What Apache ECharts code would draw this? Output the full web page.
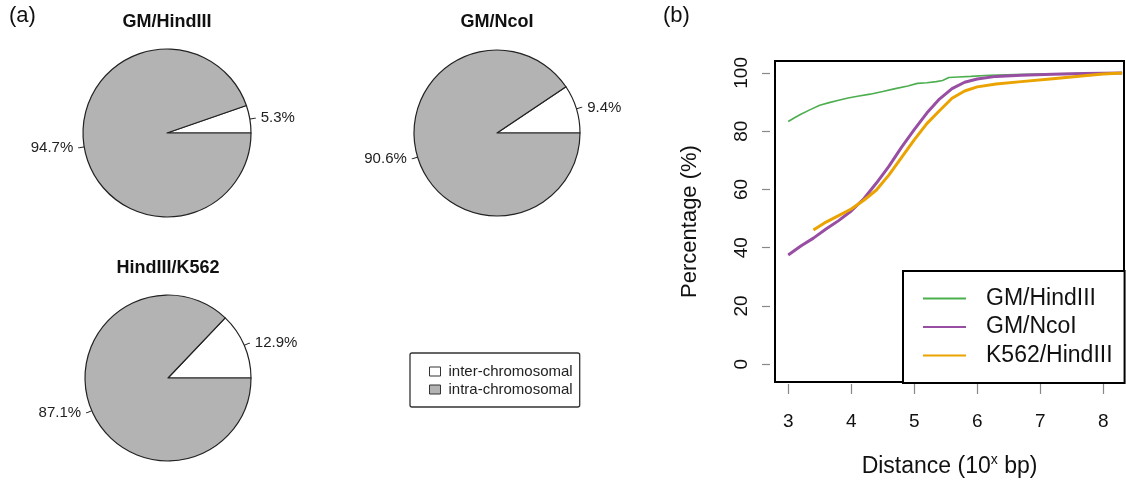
<!DOCTYPE html>
<html><head><meta charset="utf-8">
<script src="https://cdn.jsdelivr.net/npm/echarts@6/dist/echarts.min.js"></script>
<style>html,body{margin:0;padding:0;background:#fff}#c{width:1126px;height:496px}</style>
</head><body><div id="c"></div>
<script>
// ---- data ----
const pieNames = ['inter-chromosomal', 'intra-chromosomal'];
const pieTitles = ['GM/HindIII', 'GM/NcoI', 'HindIII/K562'];
const interPct = [5.3, 9.4, 12.9];
const intraPct = [94.7, 90.6, 87.1];

const lineNames = ['GM/HindIII', 'GM/NcoI', 'K562/HindIII'];
const gmHindX = [3.0, 3.1, 3.2, 3.35, 3.5, 3.65, 3.8, 3.95, 4.1, 4.3, 4.5, 4.7, 4.9, 5.05, 5.2, 5.35, 5.45, 5.55, 5.7, 5.9, 6.2, 6.6, 7.0, 7.5, 8.0, 8.3];
const gmHindY = [83.3, 84.6, 85.8, 87.4, 88.9, 89.8, 90.6, 91.4, 92.0, 92.7, 93.6, 94.6, 95.5, 96.4, 96.6, 97.0, 97.4, 98.4, 98.6, 98.8, 99.2, 99.4, 99.6, 99.8, 100, 100];
const gmNcoX = [3.0, 3.2, 3.4, 3.6, 3.8, 4.0, 4.2, 4.4, 4.6, 4.8, 5.0, 5.2, 5.4, 5.6, 5.8, 6.0, 6.3, 6.7, 7.2, 7.7, 8.3];
const gmNcoY = [37.5, 40.6, 43.3, 46.4, 49.3, 52.6, 56.8, 62.2, 68.0, 74.5, 80.5, 86.2, 91.0, 94.6, 96.8, 97.9, 98.8, 99.2, 99.5, 99.8, 100];
const k562X = [3.4, 3.6, 3.8, 4.0, 4.2, 4.4, 4.6, 4.8, 5.0, 5.2, 5.4, 5.6, 5.8, 6.0, 6.3, 6.7, 7.2, 7.7, 8.0, 8.3];
const k562Y = [46.1, 48.8, 51.0, 53.3, 56.3, 59.8, 65.0, 71.0, 77.0, 82.6, 87.0, 91.3, 93.8, 95.2, 96.2, 97.0, 98.0, 99.0, 99.6, 100];
const xTicks = [3, 4, 5, 6, 7, 8];
const yTicks = [0, 20, 40, 60, 80, 100];

// ---- layout / style ----
const FONT = '"Liberation Sans", Arial, Helvetica, sans-serif';
const pieCenters = [[167, 133], [497, 133], [168, 378]];
const pieRadius = [84, 83, 83];
const titlePos = [[167, 22], [497, 22], [168, 268]];
const pieColors = ['#ffffff', '#b3b3b3'];
const lineColors = ['#4dae4f', '#984ea3', '#eaa300'];
const lineWidths = [1.6, 3, 3];
const seriesXY = [[gmHindX, gmHindY], [gmNcoX, gmNcoY], [k562X, k562Y]];

const chart = echarts.init(document.getElementById('c'), null, {renderer: 'canvas'});

const pieSeries = pieTitles.map((t, i) => ({
  type: 'pie',
  name: 'pie' + i,
  center: pieCenters[i],
  radius: pieRadius[i],
  startAngle: 0,
  clockwise: false,
  avoidLabelOverlap: false,
  silent: true,
  minShowLabelAngle: 0,
  itemStyle: {borderColor: '#222', borderWidth: 1.2},
  label: {show: true, position: 'outside', formatter: '{c}%', fontFamily: FONT, fontSize: 15, color: '#222'},
  labelLine: {show: true, length: 5, length2: 1, smooth: false, lineStyle: {color: '#222', width: 1}},
  emphasis: {disabled: true},
  data: [
    {name: pieNames[0], value: interPct[i], itemStyle: {color: pieColors[0]}},
    {name: pieNames[1], value: intraPct[i], itemStyle: {color: pieColors[1]}}
  ]
}));

const lineSeries = lineNames.map((n, i) => ({
  type: 'line',
  name: n,
  xAxisIndex: 0, yAxisIndex: 0,
  symbol: 'none',
  showSymbol: false,
  smooth: false,
  lineStyle: {color: lineColors[i], width: lineWidths[i]},
  itemStyle: {color: lineColors[i]},
  data: seriesXY[i][0].map((x, k) => [x, seriesXY[i][1][k]])
}));

const graphics = [
  {type: 'text', left: 9, top: 5, style: {text: '(a)', font: '22px ' + FONT, fill: '#111'}},
  {type: 'text', left: 663, top: 5, style: {text: '(b)', font: '22px ' + FONT, fill: '#111'}}
].concat(pieTitles.map((t, i) => ({
  type: 'text', x: titlePos[i][0], y: titlePos[i][1],
  style: {text: t, font: 'bold 18px ' + FONT, fill: '#111', textAlign: 'center', textVerticalAlign: 'middle'}
})));

chart.setOption({
  animation: false,
  backgroundColor: '#fff',
  textStyle: {fontFamily: FONT},
  graphic: graphics,
  grid: {left: 775, right: 2, top: 61, bottom: 114, show: true, borderColor: '#000', borderWidth: 2, backgroundColor: 'transparent'},
  xAxis: {
    type: 'value', min: 2.79, max: 8.33, offset: 2,
    axisLine: {show: false, onZero: false},
    axisTick: {show: true, inside: false, length: 10, customValues: xTicks, lineStyle: {color: '#888', width: 1.2}},
    axisLabel: {customValues: xTicks, fontSize: 19, margin: 28, color: '#111', fontFamily: FONT},
    splitLine: {show: false},
    name: 'Distance (10{sup|x} bp)', nameLocation: 'middle', nameGap: 69,
    nameTextStyle: {fontSize: 23, color: '#111', fontFamily: FONT, lineHeight: 27,
      rich: {sup: {fontSize: 14, verticalAlign: 'top', lineHeight: 27, color: '#111', fontFamily: FONT}}}
  },
  yAxis: {
    type: 'value', min: -6.08, max: 104.08, offset: 5,
    axisLine: {show: false, onZero: false},
    axisTick: {show: true, length: 8, customValues: yTicks, lineStyle: {color: '#888', width: 1.2}},
    axisLabel: {customValues: yTicks, rotate: 90, fontSize: 19, margin: 19, color: '#111', fontFamily: FONT},
    splitLine: {show: false},
    name: 'Percentage (%)', nameLocation: 'middle', nameRotate: 90, nameGap: 69,
    nameTextStyle: {fontSize: 22, color: '#111', fontFamily: FONT}
  },
  legend: [
    {
      data: pieNames, orient: 'vertical', left: 410, top: 353,
      borderColor: '#333', borderWidth: 1.3, borderRadius: 2,
      padding: [11, 7, 10, 19], itemWidth: 11, itemHeight: 9, itemGap: 3,
      icon: 'rect', selectedMode: false,
      itemStyle: {borderColor: '#333', borderWidth: 1},
      textStyle: {fontSize: 15, lineHeight: 15, color: '#222', fontFamily: FONT, padding: [0, 0, 0, 3]}
    },
    {
      data: lineNames, orient: 'vertical', left: 903, top: 271,
      borderColor: '#000', borderWidth: 2, backgroundColor: '#fff',
      padding: [16, 12, 16, 20], itemWidth: 43, itemHeight: 2, itemGap: 5.5,
      icon: 'rect', selectedMode: false,
      textStyle: {fontSize: 23, lineHeight: 23, color: '#111', fontFamily: FONT, padding: [0, 0, 0, 15]}
    }
  ],
  series: pieSeries.concat(lineSeries)
});
</script>
</body></html>
